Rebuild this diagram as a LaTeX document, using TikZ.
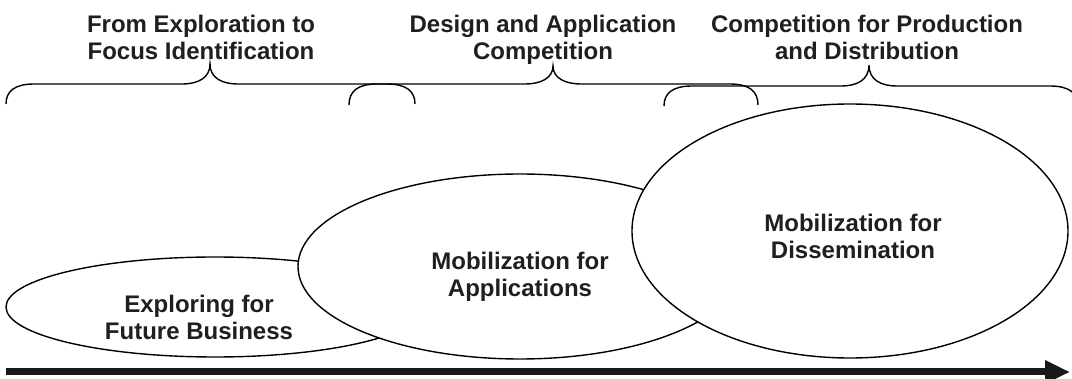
\documentclass[tikz,border=0pt]{standalone}
\usepackage{fontspec}
\setmainfont{Liberation Sans}
\usetikzlibrary{shapes.geometric,arrows.meta}

% horizontal curly brace: x-left, x-peak, x-right, y of the bar, y of the ends, y of the peak
\newcommand{\stagebrace}[6]{%
  \draw[bracket] (#1,#5) .. controls (#1,#4+7) and (#1+9,#4) .. (#1+28,#4)
    -- (#2-28,#4) .. controls (#2-12,#4) and (#2,#4-6) .. (#2,#6)
    .. controls (#2,#4-6) and (#2+12,#4) .. (#2+28,#4)
    -- (#3-28,#4) .. controls (#3-9,#4) and (#3,#4+7) .. (#3,#5);}

\begin{document}
\begin{tikzpicture}[x=1pt,y=-1pt,
  stage/.style={ellipse, draw=black, line width=1.4pt, fill=white, inner sep=0pt, outer sep=0pt},
  caption/.style={font=\fontsize{24}{27.5}\selectfont\bfseries, align=center, inner sep=0pt, text=black!88},
  bracket/.style={draw=black, line width=1.4pt},
  timeline/.style={draw=black!90, line width=7pt, -{Triangle[length=25pt,width=22pt]}}]
\useasboundingbox (0,0) rectangle (1072,379);

% phases, later ones lying over earlier ones
\node[stage, minimum width=418pt, minimum height=100pt] (explore) at (215,307) {};
\node[stage, minimum width=444pt, minimum height=185pt] (apps) at (520,266.5) {};
\node[stage, minimum width=436pt, minimum height=254pt] (dissem) at (850,231) {};

% captions are placed by the baseline of their last line
\node[caption, anchor=base] (exploreText) at (199,340) {Exploring for\\Future Business};
\node[caption, anchor=base] (appsText) at (520,297) {Mobilization for\\Applications};
\node[caption, anchor=base] (dissemText) at (853,259) {Mobilization for\\Dissemination};

% overlapping braces over the phases
\stagebrace{6}{210}{415}{84}{104}{64}
\stagebrace{349}{553}{758}{84}{105}{66}
\stagebrace{664}{869}{1078}{86}{106}{65}

\node[caption, anchor=base] (head1) at (201,60) {From Exploration to\\Focus Identification};
\node[caption, anchor=base] (head2) at (543,60) {Design and Application\\Competition};
\node[caption, anchor=base] (head3) at (867,60) {Competition for Production\\and Distribution};

% time axis
\coordinate (axisStart) at (6,372);
\coordinate (axisEnd) at (1070,372);
\draw[timeline] (axisStart) -- (axisEnd);
\end{tikzpicture}
\end{document}
